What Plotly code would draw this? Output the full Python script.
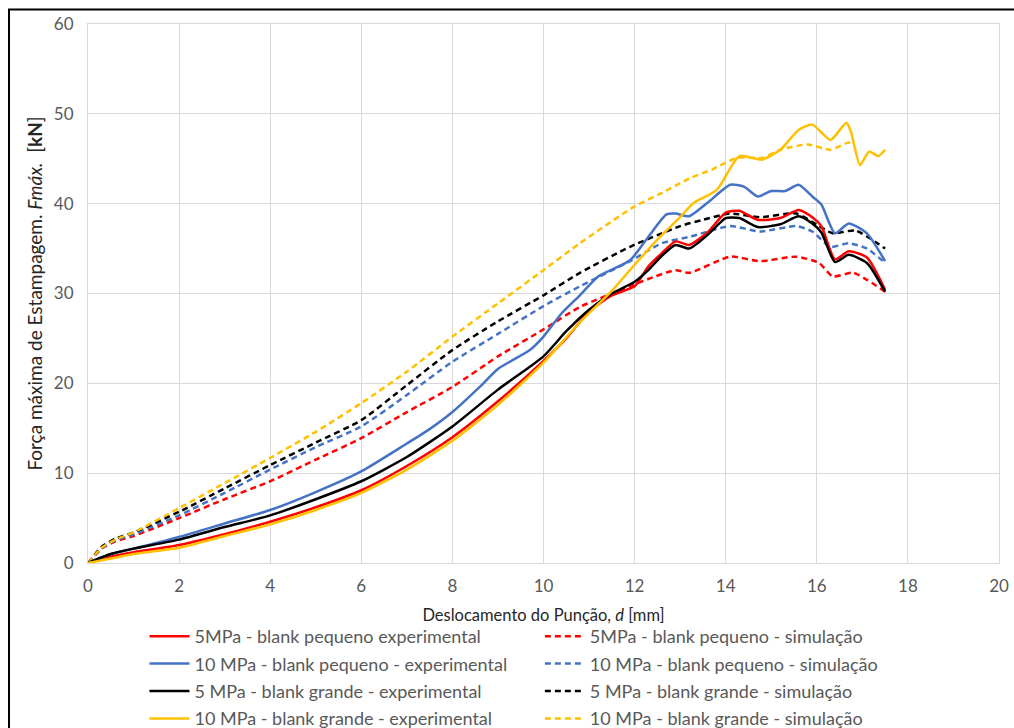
import plotly.graph_objects as go

# ---- data ----
x_red_exp = [0, 0.5, 1, 2, 3, 4, 5, 6, 7, 8, 9, 10, 10.5, 11, 11.5, 12, 12.3, 12.6, 12.9, 13.2, 13.6, 14.0, 14.3, 14.7, 15.2, 15.6, 15.9, 16.1, 16.4, 16.7, 17.1, 17.5]
y_red_exp = [0, 0.7, 1.2, 2.0, 3.2, 4.6, 6.2, 8.1, 10.8, 14.0, 18.0, 22.5, 25.0, 28.0, 29.8, 30.8, 33.0, 34.5, 35.8, 35.4, 36.8, 39.0, 39.2, 38.2, 38.4, 39.3, 38.5, 37.5, 33.8, 34.7, 34.0, 30.4]

x_red_sim = [0, 0.3, 0.6, 1, 2, 3, 4, 5, 6, 7, 8, 9, 10, 10.8, 11.9, 12.4, 12.9, 13.2, 14.1, 14.75, 15.55, 16.05, 16.35, 16.8, 17.5]
y_red_sim = [0, 1.6, 2.4, 3.0, 5.0, 7.1, 9.1, 11.5, 13.9, 16.8, 19.6, 23.0, 26.0, 28.5, 30.8, 31.8, 32.6, 32.3, 34.1, 33.6, 34.1, 33.4, 31.9, 32.3, 30.2]

x_blue_exp = [0, 0.5, 1, 2, 3, 4, 5, 6, 7, 7.5, 8, 8.6, 9, 9.7, 10, 10.4, 10.8, 11.2, 11.9, 12.3, 12.7, 12.9, 13.2, 13.6, 14.1, 14.4, 14.7, 15.0, 15.3, 15.6, 15.9, 16.1, 16.4, 16.7, 17.1, 17.5]
y_blue_exp = [0, 1.0, 1.6, 2.9, 4.4, 5.9, 7.9, 10.2, 13.3, 14.9, 16.8, 19.6, 21.6, 23.7, 25.2, 27.8, 29.8, 31.9, 33.7, 36.3, 38.8, 38.9, 38.6, 40.1, 42.1, 41.9, 40.8, 41.4, 41.4, 42.1, 40.8, 39.9, 36.7, 37.8, 36.7, 33.6]

x_blue_sim = [0, 0.3, 0.6, 1, 2, 3, 4, 5, 6, 7, 8, 9, 10, 10.8, 11.9, 12.6, 13.2, 14.1, 14.75, 15.55, 15.9, 16.3, 16.7, 17.1, 17.5]
y_blue_sim = [0, 1.6, 2.5, 3.2, 5.3, 7.8, 10.4, 12.9, 15.2, 18.7, 22.4, 25.5, 28.6, 30.8, 33.6, 35.6, 36.3, 37.5, 36.9, 37.5, 36.9, 35.2, 35.6, 35.0, 33.4]

x_black_exp = [0, 0.5, 1, 2, 3, 4, 5, 6, 7, 8, 9, 10, 10.5, 11, 11.5, 12, 12.3, 12.6, 12.9, 13.2, 13.6, 14.0, 14.3, 14.7, 15.2, 15.6, 15.9, 16.1, 16.4, 16.7, 17.1, 17.5]
y_black_exp = [0, 1.0, 1.6, 2.6, 4.0, 5.3, 7.1, 9.1, 11.8, 15.2, 19.3, 23.0, 25.8, 28.2, 30.0, 31.3, 32.6, 34.2, 35.4, 35.0, 36.5, 38.4, 38.4, 37.4, 37.7, 38.6, 37.8, 36.8, 33.5, 34.3, 33.4, 30.2]

x_black_sim = [0, 0.3, 0.6, 1, 2, 3, 4, 5, 6, 7, 8, 9, 10, 10.8, 11.9, 13.0, 13.5, 14.1, 14.75, 15.55, 16.05, 16.35, 16.85, 17.5]
y_black_sim = [0, 1.8, 2.7, 3.4, 5.7, 8.3, 10.9, 13.4, 15.9, 19.8, 23.7, 26.9, 29.8, 32.3, 35.2, 37.5, 38.2, 38.9, 38.5, 38.9, 37.5, 36.7, 37.0, 35.0]

x_yellow_exp = [0, 0.5, 1, 2, 3, 4, 5, 6, 7, 8, 9, 10, 10.8, 11.5, 12, 12.5, 13.0, 13.3, 13.8, 14.3, 14.8, 15.2, 15.6, 15.9, 16.3, 16.65, 16.75, 16.95, 17.15, 17.35, 17.5]
y_yellow_exp = [0, 0.5, 1.0, 1.7, 3.0, 4.3, 5.9, 7.8, 10.4, 13.6, 17.6, 22.3, 26.8, 30.3, 33.2, 36.0, 38.5, 40.1, 41.5, 45.3, 44.9, 46.0, 48.2, 48.8, 47.1, 49.0, 48.0, 44.3, 45.8, 45.3, 46.0]

x_yellow_sim = [0, 0.3, 0.6, 1, 2, 3, 4, 5, 6, 7, 8, 9, 10, 10.8, 12.0, 12.6, 13.2, 13.7, 14.25, 14.8, 15.2, 15.8, 16.3, 16.7, 16.8]
y_yellow_sim = [0, 1.7, 2.6, 3.4, 6.1, 8.9, 11.7, 14.6, 17.8, 21.3, 25.2, 28.9, 32.6, 35.6, 39.7, 41.2, 42.8, 43.8, 45.1, 45.1, 46.0, 46.6, 46.0, 46.8, 46.6]

names_exp = ["5MPa - blank pequeno experimental", "10 MPa - blank pequeno - experimental",
             "5 MPa - blank grande - experimental", "10 MPa - blank grande - experimental"]
names_sim = ["5MPa - blank pequeno - simulação", "10 MPa - blank pequeno - simulação",
             "5 MPa - blank grande - simulação", "10 MPa - blank grande - simulação"]
colors = ["#FF0000", "#4472C4", "#000000", "#FFC000"]

exp_series = [(x_red_exp, y_red_exp), (x_blue_exp, y_blue_exp), (x_black_exp, y_black_exp), (x_yellow_exp, y_yellow_exp)]
sim_series = [(x_red_sim, y_red_sim), (x_blue_sim, y_blue_sim), (x_black_sim, y_black_sim), (x_yellow_sim, y_yellow_sim)]

x_ticks = [0, 2, 4, 6, 8, 10, 12, 14, 16, 18, 20]
y_ticks = [0, 10, 20, 30, 40, 50, 60]

FONT = "Lato"
NB = "\u00a0"
fig = go.Figure()

for i in range(4):
    xs, ys = sim_series[i]
    fig.add_trace(go.Scatter(x=xs, y=ys, mode="lines", name=names_sim[i],
                             line=dict(color=colors[i], width=2.5, dash="6px,4px", shape="spline", smoothing=0.6),
                             legend="legend2", legendgroup="s%d" % i))
for i in range(4):
    xs, ys = exp_series[i]
    fig.add_trace(go.Scatter(x=xs, y=ys, mode="lines", name=names_exp[i],
                             line=dict(color=colors[i], width=2.5, shape="spline", smoothing=0.6),
                             legend="legend", legendgroup="e%d" % i))

grid = "#D9D9D9"
fig.update_layout(
    width=1014, height=728,
    margin=dict(l=88, r=15, t=24, b=165, autoexpand=False),
    paper_bgcolor="white", plot_bgcolor="white",
    font=dict(family=FONT, size=16, color="#595959"),
    xaxis=dict(range=[0, 20], tickvals=x_ticks, showgrid=True, gridcolor=grid, gridwidth=1,
               zeroline=False, showline=True, linecolor=grid, linewidth=1, mirror=True,
               ticks="", tickfont=dict(size=17, color="#595959"), ticklabelstandoff=8, automargin=False,
               title=dict(text="Deslocamento do Punção, <i>d</i> [mm]", font=dict(size=16.5, color="#262626"), standoff=14)),
    yaxis=dict(range=[0, 60], tickvals=y_ticks, showgrid=True, gridcolor=grid, gridwidth=1,
               zeroline=False, showline=True, linecolor=grid, linewidth=1, mirror=True,
               ticks="", tickfont=dict(size=17, color="#595959"), ticklabelstandoff=10, automargin=False,
               title=dict(text="Força máxima de Estampagem. <i>Fmáx.</i>" + NB + " [<b>kN</b>]" + NB * 4,
                          font=dict(size=19, color="#262626"), standoff=6)),
    legend=dict(x=0.062, xanchor="left", y=-0.102, yanchor="top", orientation="v", itemwidth=40,
                font=dict(size=18, color="#595959"), tracegroupgap=1, bgcolor="rgba(0,0,0,0)"),
    legend2=dict(x=0.496, xanchor="left", y=-0.102, yanchor="top", orientation="v", itemwidth=40,
                 font=dict(size=18, color="#595959"), tracegroupgap=1, bgcolor="rgba(0,0,0,0)"),
    showlegend=True,
)

# outer chart frame (top and left edges visible in the crop)
fig.add_shape(type="line", xref="paper", yref="paper", x0=-0.0878, x1=1.03, y0=1.0269, y1=1.0269,
              line=dict(color="#000000", width=2))
fig.add_shape(type="line", xref="paper", yref="paper", x0=-0.0867, x1=-0.0867, y0=1.0269, y1=-0.33,
              line=dict(color="#000000", width=2))

fig.write_html("out.html")
